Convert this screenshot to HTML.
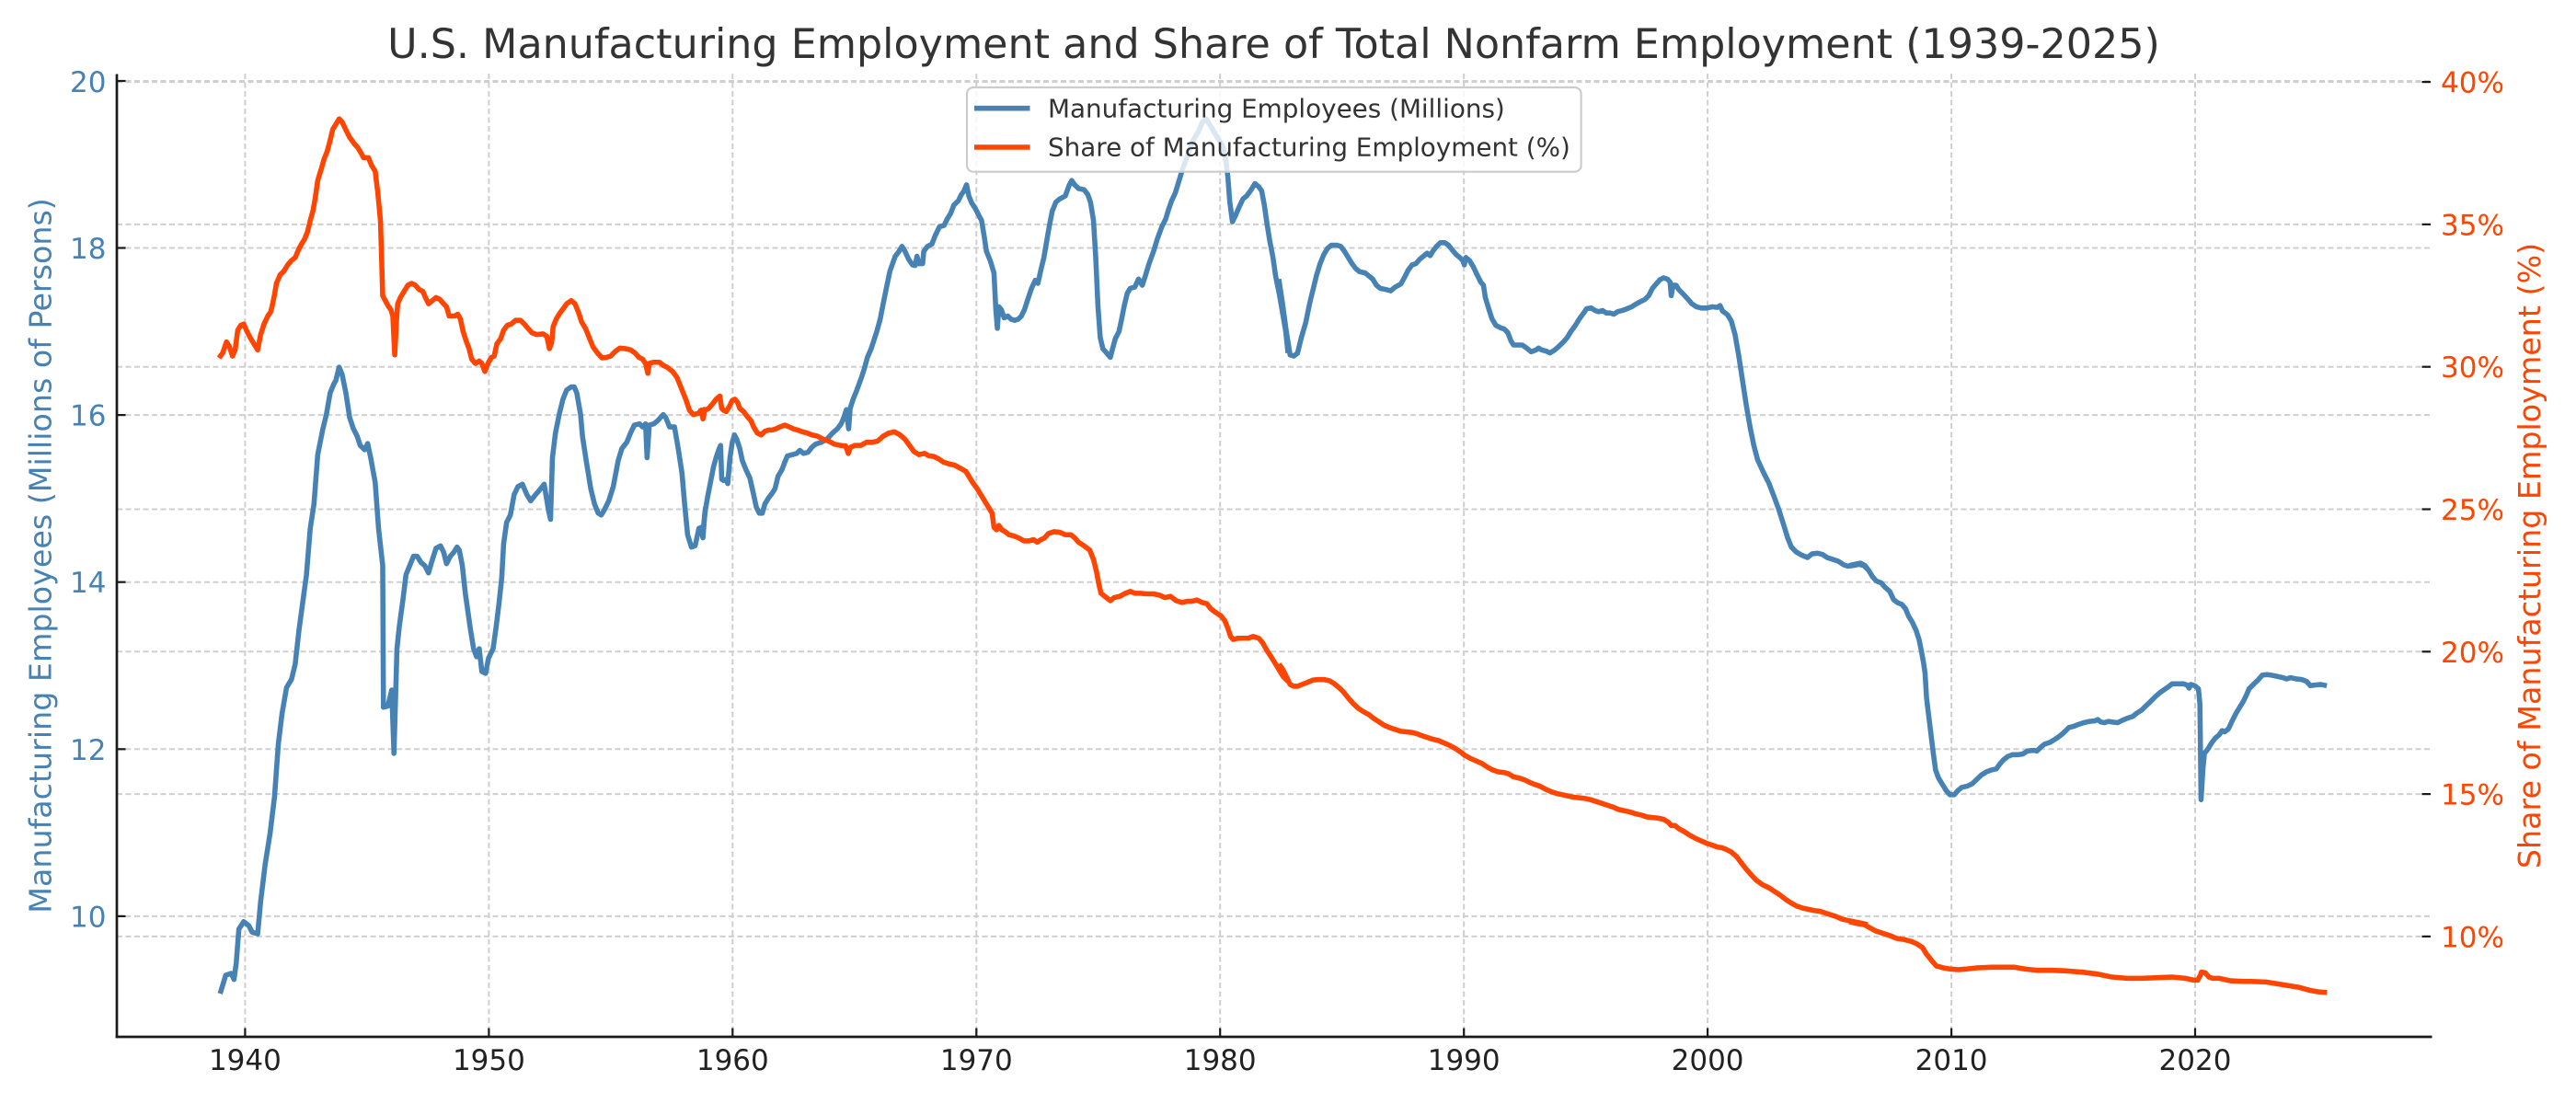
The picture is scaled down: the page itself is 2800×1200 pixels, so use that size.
<!DOCTYPE html>
<html>
<head>
<meta charset="utf-8">
<style>
html,body{margin:0;padding:0;background:#fff;}
svg{display:block;}
text{font-family:"DejaVu Sans","Liberation Sans",sans-serif;}
</style>
</head>
<body>
<svg width="2800" height="1200" viewBox="0 0 2800 1200" xmlns="http://www.w3.org/2000/svg">
<rect x="0" y="0" width="2800" height="1200" fill="#ffffff"/>

<!-- Grid -->
<g stroke="#cfcfcf" stroke-width="2" stroke-dasharray="6 3.5" fill="none">
  <line x1="266.4" y1="80" x2="266.4" y2="1127"/>
  <line x1="531.4" y1="80" x2="531.4" y2="1127"/>
  <line x1="796.3" y1="80" x2="796.3" y2="1127"/>
  <line x1="1061.3" y1="80" x2="1061.3" y2="1127"/>
  <line x1="1326.2" y1="80" x2="1326.2" y2="1127"/>
  <line x1="1591.2" y1="80" x2="1591.2" y2="1127"/>
  <line x1="1856.1" y1="80" x2="1856.1" y2="1127"/>
  <line x1="2121.1" y1="80" x2="2121.1" y2="1127"/>
  <line x1="2386" y1="80" x2="2386" y2="1127"/>
  <line x1="127" y1="88" x2="2642" y2="88"/>
  <line x1="127" y1="269.5" x2="2642" y2="269.5"/>
  <line x1="127" y1="451.1" x2="2642" y2="451.1"/>
  <line x1="127" y1="632.7" x2="2642" y2="632.7"/>
  <line x1="127" y1="814.3" x2="2642" y2="814.3"/>
  <line x1="127" y1="995.9" x2="2642" y2="995.9"/>
  <line x1="127" y1="89.1" x2="2642" y2="89.1"/>
  <line x1="127" y1="243.9" x2="2642" y2="243.9"/>
  <line x1="127" y1="398.7" x2="2642" y2="398.7"/>
  <line x1="127" y1="553.5" x2="2642" y2="553.5"/>
  <line x1="127" y1="708.3" x2="2642" y2="708.3"/>
  <line x1="127" y1="863.1" x2="2642" y2="863.1"/>
  <line x1="127" y1="1017.9" x2="2642" y2="1017.9"/>
</g>

<!-- Blue series -->
<g fill="none" stroke="#4682B4" stroke-width="5.56" stroke-linejoin="round" stroke-linecap="butt">
<polyline vector-effect="non-scaling-stroke" transform="translate(127,79) scale(0.408163,0.669643)" points="275,1495 290,1465 305,1462 312,1472 318,1445 325,1390 338,1378 352,1385 360,1395 375,1398 383,1345 395,1285 408,1235 420,1175 430,1090 440,1040 452,998 465,985 475,960 485,905 495,860 505,815 515,740 525,700 535,620 548,580 558,555 568,520 578,505 583,500 592,478 600,490 610,520 620,560 630,578 640,590 648,605 660,612 668,602 676,625 688,665 697,740 708,800 710,1030 722,1028 732,1002 738,1105 746,935 752,900 762,855 770,815 780,800 790,785 800,785 810,795 820,800 830,812 838,795 850,772 862,768 870,778 878,797 888,785 898,778 906,770 912,775 920,800 928,845 935,875 942,905 950,935 958,948 965,935 972,972 982,975 990,950 1002,935 1010,900 1018,860 1025,820 1030,765 1038,730 1048,718 1058,685 1068,672 1080,668 1092,685 1102,695 1115,685 1125,678 1138,668 1144,690 1150,712 1155,725 1160,625 1168,585 1178,555 1188,530 1198,515 1210,510 1218,510 1225,520 1235,555 1240,590 1250,630 1262,675 1272,700 1282,715 1290,718 1298,710 1310,695 1322,672 1335,630 1345,610 1358,600 1368,585 1378,572 1392,570 1400,575 1408,570 1412,625 1418,572 1430,570 1440,565 1455,555 1462,560 1472,575 1485,575 1495,610 1505,650 1512,700 1520,750 1530,770 1540,768 1550,740 1560,750 1568,705"/>
<polyline vector-effect="non-scaling-stroke" transform="translate(760,79) scale(0.408163,0.669643)" points="0,735 5,742 10,755 15,715 22,690 30,665 38,640 45,625 52,612 57,605 60,660 65,662 72,660 76,667 82,625 88,600 94,588 100,595 108,610 115,630 125,645 135,658 145,685 152,705 160,715 168,715 175,700 185,690 195,682 202,675 210,655 220,645 228,632 235,622 248,620 260,618 268,613 278,618 290,616 300,608 310,603 325,600 340,595 355,585 368,578 378,570 385,560 392,547 398,578 402,545 410,530 420,515 432,495 440,480 448,462 458,448 465,435 473,420 482,400 490,375 500,345 508,322 515,310 522,298 530,292 540,282 548,290 558,303 568,312 575,313 580,298 585,310 595,310 598,290 608,282 620,278 628,265 640,250 652,248 660,238 670,228 678,215 690,208 698,198 705,192 712,182 718,200 726,212 735,220 745,232 752,240 758,262 765,290 775,305 785,325 790,385 794,415 798,380 805,385 812,398 822,395 830,400 840,402 850,400 858,395 866,385 875,368 885,350 895,337 902,342 910,320 918,300 925,275 932,250 940,225 950,210 960,205 975,200 985,183 992,175 1000,182 1010,188 1025,190 1035,198 1042,210 1050,240 1056,300 1062,380 1068,430 1075,448 1085,455 1095,462 1100,450 1108,432 1118,420 1125,400 1132,378 1140,358 1148,350 1160,348 1170,335 1175,340 1180,345 1188,330 1198,310 1210,290 1220,270 1232,250 1242,238 1250,222 1258,208 1268,195 1278,175 1288,155 1300,135 1315,110 1330,95 1340,80 1350,75 1360,85 1370,95 1385,110 1395,120 1402,140 1408,170 1413,210 1420,242 1428,232 1438,218 1448,205 1458,200 1470,190 1480,180 1490,185 1498,192 1505,215 1512,245 1520,275 1528,300 1535,330 1545,360 1555,395 1562,420 1568,455"/>
<polyline vector-effect="non-scaling-stroke" transform="translate(1390,79) scale(0.408163,0.669643)" points="0,335 10,375 20,420 30,458 40,460 50,455 60,430 72,405 82,375 92,350 100,330 110,310 120,295 130,285 140,280 155,280 165,282 175,290 185,300 195,310 205,318 215,323 230,325 240,330 250,335 260,345 270,350 285,352 298,354 310,348 325,343 335,332 345,320 355,312 365,310 375,303 385,298 395,293 403,297 410,290 420,282 430,276 442,276 452,280 462,288 472,295 482,300 490,305 494,312 498,300 508,305 518,315 528,328 538,340 545,345 550,365 560,385 568,400 578,410 590,414 600,416 610,422 618,435 625,442 635,442 648,442 660,447 672,453 685,450 692,447 700,450 712,452 722,455 735,450 748,443 758,437 768,430 778,420 790,410 800,400 812,390 820,383 832,382 842,386 852,388 862,386 872,390 882,390 892,392 902,388 915,386 928,383 940,380 950,376 962,372 975,368 985,362 995,350 1005,343 1015,336 1025,333 1035,335 1042,340 1045,362 1050,345 1058,345 1065,352 1078,360 1090,368 1100,375 1112,380 1125,382 1140,382 1155,380 1168,381 1175,378 1182,387 1195,393 1205,403 1215,425 1225,460 1235,500 1245,540 1255,575 1265,605 1275,628 1290,648 1305,666 1320,690 1332,710 1345,735 1355,755 1365,770 1378,778 1392,783 1408,787 1420,781 1435,780 1448,782 1460,787 1475,790 1490,793 1505,799 1515,801 1530,800 1545,798 1558,800 1568,806"/>
<polyline vector-effect="non-scaling-stroke" transform="translate(2010,79) scale(0.408163,0.669643)" points="0,800 15,798 30,796 42,800 52,808 62,818 72,825 85,828 95,835 108,842 118,855 128,860 140,863 150,870 158,882 168,892 178,905 186,920 192,938 198,958 202,975 206,1015 212,1045 218,1075 224,1105 230,1132 238,1145 248,1155 258,1165 268,1172 280,1172 290,1165 300,1160 315,1158 328,1154 340,1147 352,1140 365,1135 378,1132 392,1130 400,1123 410,1116 422,1110 435,1107 450,1107 462,1106 475,1101 490,1100 500,1101 510,1095 520,1090 535,1087 548,1082 560,1077 572,1071 585,1063 598,1061 610,1058 625,1055 640,1053 655,1052 662,1050 670,1054 680,1055 690,1053 700,1054 715,1055 728,1051 740,1048 755,1045 765,1040 778,1035 790,1028 802,1021 815,1013 828,1006 840,1001 852,996 860,992 875,992 890,992 900,994 905,999 910,993 920,995 930,1000 934,1025 937,1180 942,1130 946,1105 955,1098 965,1088 975,1080 985,1075 993,1068 1000,1070 1010,1065 1020,1052 1030,1040 1040,1030 1050,1020 1058,1010 1065,1000 1078,992 1090,985 1100,978 1112,977 1125,978 1140,980 1155,982 1165,984 1175,982 1190,984 1205,985 1218,988 1228,995 1240,994 1255,993 1272,995"/>
</g>

<!-- Orange series -->
<g fill="none" stroke="#FF4500" stroke-width="5.56" stroke-linejoin="round" stroke-linecap="butt">
<polyline vector-effect="non-scaling-stroke" transform="translate(127,79) scale(0.408163,0.669643)" points="272,463 282,455 292,437 300,445 308,460 315,450 322,418 330,410 338,408 345,418 355,430 365,440 375,450 383,425 392,408 402,395 410,388 415,375 420,360 425,342 435,328 445,322 455,312 465,305 475,300 482,290 490,280 500,270 508,258 515,240 522,225 528,205 535,175 545,155 552,140 560,128 568,110 575,92 582,85 592,75 600,80 610,93 620,105 632,115 642,122 650,130 657,138 670,138 678,150 688,160 695,195 702,240 705,300 708,362 715,370 722,378 730,385 735,395 740,458 745,400 748,375 755,365 765,355 775,345 785,342 795,345 805,352 815,355 822,365 830,375 840,370 850,365 860,368 870,375 878,380 885,395 900,395 908,392 915,400 922,420 930,435 938,448 945,465 955,472 965,468 972,472 980,485 990,470 998,462 1005,460 1012,440 1022,432 1030,418 1040,410 1050,408 1062,402 1075,402 1085,408 1095,415 1105,422 1118,425 1135,424 1145,428 1152,448 1158,438 1162,412 1170,400 1180,390 1190,382 1198,375 1210,370 1220,375 1230,390 1238,405 1248,415 1258,430 1268,445 1280,455 1292,463 1305,462 1315,460 1328,452 1340,447 1355,448 1368,450 1380,455 1390,462 1400,465 1408,472 1414,488 1418,472 1428,470 1445,470 1455,475 1465,478 1480,485 1492,495 1505,515 1515,530 1525,548 1535,555 1548,553 1558,548 1568,546"/>
<polyline vector-effect="non-scaling-stroke" transform="translate(760,79) scale(0.408163,0.669643)" points="0,550 5,548 10,562 15,548 25,545 35,538 45,530 55,525 60,545 65,548 72,550 80,542 88,532 95,530 102,535 108,545 118,550 128,558 138,565 145,575 155,585 165,588 175,582 185,580 195,580 205,578 215,575 228,572 240,575 250,578 262,580 275,583 288,585 300,588 315,590 330,595 345,598 360,603 375,605 390,606 397,618 403,608 415,605 430,605 445,600 460,600 475,598 490,590 505,585 520,583 535,588 548,595 560,605 572,615 585,620 600,618 612,622 625,623 638,627 650,632 665,635 680,637 695,642 710,647 718,655 728,665 740,675 750,685 760,695 770,705 780,715 785,738 792,742 798,735 806,742 815,745 825,750 838,752 850,755 865,760 878,760 890,758 900,762 910,758 920,755 930,748 945,745 960,746 975,750 990,750 1000,755 1010,762 1025,768 1040,775 1050,790 1058,810 1065,832 1070,845 1080,850 1095,857 1105,852 1120,850 1135,845 1148,842 1160,845 1175,845 1190,846 1210,846 1225,848 1240,852 1255,850 1270,857 1285,860 1300,858 1312,858 1325,856 1340,860 1352,862 1362,870 1375,876 1390,882 1400,890 1408,902 1415,915 1422,920 1435,918 1450,918 1462,918 1475,915 1490,918 1500,925 1512,938 1525,950 1540,965 1555,980 1568,988"/>
<polyline vector-effect="non-scaling-stroke" transform="translate(1390,79) scale(0.408163,0.669643)" points="0,960 10,968 20,980 30,993 40,996 50,996 62,993 75,990 90,986 105,985 120,985 135,987 148,992 160,998 172,1005 185,1015 198,1024 212,1032 225,1037 240,1042 252,1048 265,1053 280,1059 295,1063 310,1066 325,1069 340,1070 355,1071 368,1073 380,1076 395,1079 410,1082 425,1084 440,1088 455,1092 470,1097 485,1103 495,1108 510,1113 525,1117 540,1121 555,1127 570,1132 585,1135 600,1136 612,1138 625,1143 640,1145 655,1148 668,1152 680,1155 695,1158 710,1163 725,1167 740,1170 755,1172 770,1174 785,1176 800,1177 815,1178 830,1180 845,1183 860,1186 875,1189 890,1192 905,1196 920,1198 935,1200 950,1203 965,1205 980,1208 995,1209 1010,1210 1025,1212 1038,1217 1045,1222 1055,1222 1065,1227 1080,1232 1095,1238 1110,1243 1125,1247 1140,1251 1155,1254 1168,1257 1180,1258 1192,1261 1205,1265 1220,1273 1232,1283 1245,1293 1258,1302 1272,1311 1288,1318 1305,1323 1320,1329 1335,1335 1350,1342 1365,1348 1380,1353 1395,1356 1410,1358 1425,1360 1440,1361 1455,1364 1470,1367 1485,1370 1500,1374 1515,1376 1530,1378 1548,1380 1568,1383"/>
<polyline vector-effect="non-scaling-stroke" transform="translate(2010,79) scale(0.408163,0.669643)" points="0,1378 20,1381 40,1383 55,1388 70,1393 90,1397 110,1401 125,1405 145,1407 165,1410 180,1414 195,1420 205,1430 218,1440 232,1450 250,1453 270,1455 290,1456 310,1455 340,1453 380,1452 420,1452 440,1452 470,1455 500,1457 540,1457 580,1458 620,1460 660,1463 700,1468 740,1470 780,1470 820,1469 860,1468 895,1470 918,1473 928,1473 935,1465 938,1460 948,1461 958,1468 968,1470 985,1470 1000,1472 1015,1474 1050,1475 1070,1475 1110,1476 1140,1479 1170,1482 1200,1485 1230,1490 1250,1492 1272,1493"/>
</g>

<!-- Spines -->
<line x1="127" y1="80.5" x2="127" y2="1128.3" stroke="#1a1a1a" stroke-width="2.7"/>
<line x1="125.7" y1="1127" x2="2643.5" y2="1127" stroke="#1a1a1a" stroke-width="2.7"/>

<!-- Ticks -->
<g stroke="#1a1a1a" stroke-width="2.2">
  <line x1="127" y1="88" x2="136.5" y2="88"/>
  <line x1="127" y1="269.5" x2="136.5" y2="269.5"/>
  <line x1="127" y1="451.1" x2="136.5" y2="451.1"/>
  <line x1="127" y1="632.7" x2="136.5" y2="632.7"/>
  <line x1="127" y1="814.3" x2="136.5" y2="814.3"/>
  <line x1="127" y1="995.9" x2="136.5" y2="995.9"/>
  <line x1="2632.5" y1="89.1" x2="2642" y2="89.1"/>
  <line x1="2632.5" y1="243.9" x2="2642" y2="243.9"/>
  <line x1="2632.5" y1="398.7" x2="2642" y2="398.7"/>
  <line x1="2632.5" y1="553.5" x2="2642" y2="553.5"/>
  <line x1="2632.5" y1="708.3" x2="2642" y2="708.3"/>
  <line x1="2632.5" y1="863.1" x2="2642" y2="863.1"/>
  <line x1="2632.5" y1="1017.9" x2="2642" y2="1017.9"/>
  <line x1="266.4" y1="1127" x2="266.4" y2="1117.5"/>
  <line x1="531.4" y1="1127" x2="531.4" y2="1117.5"/>
  <line x1="796.3" y1="1127" x2="796.3" y2="1117.5"/>
  <line x1="1061.3" y1="1127" x2="1061.3" y2="1117.5"/>
  <line x1="1326.2" y1="1127" x2="1326.2" y2="1117.5"/>
  <line x1="1591.2" y1="1127" x2="1591.2" y2="1117.5"/>
  <line x1="1856.1" y1="1127" x2="1856.1" y2="1117.5"/>
  <line x1="2121.1" y1="1127" x2="2121.1" y2="1117.5"/>
  <line x1="2386" y1="1127" x2="2386" y2="1117.5"/>
</g>

<!-- X tick labels -->
<g font-size="31" fill="#222222" text-anchor="middle">
  <text x="266.4" y="1163">1940</text>
  <text x="531.4" y="1163">1950</text>
  <text x="796.3" y="1163">1960</text>
  <text x="1061.3" y="1163">1970</text>
  <text x="1326.2" y="1163">1980</text>
  <text x="1591.2" y="1163">1990</text>
  <text x="1856.1" y="1163">2000</text>
  <text x="2121.1" y="1163">2010</text>
  <text x="2386" y="1163">2020</text>
</g>

<!-- Left tick labels -->
<g font-size="31" fill="#4682B4" text-anchor="end">
  <text x="115.5" y="100">20</text>
  <text x="115.5" y="281">18</text>
  <text x="115.5" y="462.6">16</text>
  <text x="115.5" y="644.2">14</text>
  <text x="115.5" y="825.8">12</text>
  <text x="115.5" y="1007.4">10</text>
</g>

<!-- Right tick labels -->
<g font-size="31" fill="#FF4500" text-anchor="start">
  <text x="2653" y="100.6">40%</text>
  <text x="2653" y="255.4">35%</text>
  <text x="2653" y="410.2">30%</text>
  <text x="2653" y="565">25%</text>
  <text x="2653" y="719.8">20%</text>
  <text x="2653" y="874.6">15%</text>
  <text x="2653" y="1029.4">10%</text>
</g>

<!-- Axis labels -->
<text transform="translate(55.5,604) rotate(-90)" font-size="33.3" fill="#4682B4" text-anchor="middle">Manufacturing Employees (Millions of Persons)</text>
<text transform="translate(2761,604) rotate(-90)" font-size="33.3" fill="#FF4500" text-anchor="middle">Share of Manufacturing Employment (%)</text>

<!-- Title -->
<text x="1384.5" y="63" font-size="44.4" fill="#333333" text-anchor="middle">U.S. Manufacturing Employment and Share of Total Nonfarm Employment (1939-2025)</text>

<!-- Legend -->
<rect x="1051" y="95" width="667.6" height="91.7" rx="7" ry="7" fill="#ffffff" fill-opacity="0.8" stroke="#cccccc" stroke-width="2.2"/>
<line x1="1059" y1="117.7" x2="1119.5" y2="117.7" stroke="#4682B4" stroke-width="5.56"/>
<line x1="1059" y1="160" x2="1119.5" y2="160" stroke="#FF4500" stroke-width="5.56"/>
<text x="1139" y="127.7" font-size="27.8" fill="#333333">Manufacturing Employees (Millions)</text>
<text x="1139" y="169.3" font-size="27.8" fill="#333333">Share of Manufacturing Employment (%)</text>
</svg>
</body>
</html>
